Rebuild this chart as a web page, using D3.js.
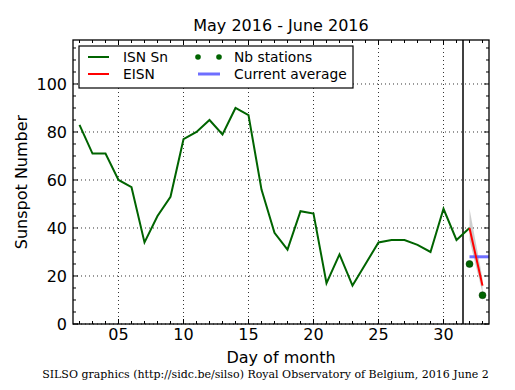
<!DOCTYPE html>
<html><head><meta charset="utf-8">
<script src="https://cdn.jsdelivr.net/npm/d3@7"></script>
<style>body{margin:0;background:#fff}svg{display:block}</style>
</head><body>
<svg id="c" width="515" height="390"></svg>
<script>
const days = [2,3,4,5,6,7,8,9,10,11,12,13,14,15,16,17,18,19,20,21,22,23,24,25,26,27,28,29,30,31,32];
const isn = [83,71,71,60,57,34,45,53,77,80,85,79,90,87,56,38,31,47,46,17,29,16,25,34,35,35,33,30,48,35,40];
const eisnDays = [32,33];
const eisn = [40,16];
const eisnUpper = [48,19];
const eisnLower = [35,13];
const stationDays = [32,33];
const stations = [25,12];
const avgDays = [32,33.5];
const currentAvg = [28,28];
const xTicks = [5,10,15,20,25,30];
const xTickLabels = ["05","10","15","20","25","30"];
const yTicks = [0,20,40,60,80,100];
const monthBoundary = 31.5;

const svg = d3.select("#c");
const L=73,R=489,T=40,B=324;
const x = d3.scaleLinear().domain([1.5,33.5]).range([L,R]);
const y = d3.scaleLinear().domain([0,118.33]).range([B,T]);
const font = "DejaVu Sans, sans-serif";

svg.append("rect").attr("width",515).attr("height",390).attr("fill","#fff");

// grid
const g = svg.append("g");
xTicks.forEach(t=>g.append("line").attr("x1",x(t)).attr("x2",x(t)).attr("y1",T).attr("y2",B)
  .attr("stroke","#000").attr("stroke-width",0.8).attr("stroke-dasharray","1,3"));
yTicks.forEach(t=>g.append("line").attr("x1",L).attr("x2",R).attr("y1",y(t)).attr("y2",y(t))
  .attr("stroke","#000").attr("stroke-width",0.8).attr("stroke-dasharray","1,3"));

// ticks inward
const tk = svg.append("g").attr("stroke","#000").attr("stroke-width",1);
d3.range(2,34).forEach(d=>{
  const len = xTicks.includes(d)?5:3;
  tk.append("line").attr("x1",x(d)).attr("x2",x(d)).attr("y1",B).attr("y2",B-len);
  tk.append("line").attr("x1",x(d)).attr("x2",x(d)).attr("y1",T).attr("y2",T+len);
});
d3.range(0,119,5).forEach(v=>{
  const len = v%20===0?5:3;
  tk.append("line").attr("x1",L).attr("x2",L+len).attr("y1",y(v)).attr("y2",y(v));
  tk.append("line").attr("x1",R).attr("x2",R-len).attr("y1",y(v)).attr("y2",y(v));
});

// vertical boundary
svg.append("line").attr("x1",x(monthBoundary)).attr("x2",x(monthBoundary)).attr("y1",T).attr("y2",B)
  .attr("stroke","#000").attr("stroke-width",1.5);

// uncertainty band
const band = eisnDays.map((d,i)=>({d,u:eisnUpper[i],l:eisnLower[i]}));
svg.append("path").datum(band)
  .attr("d",d3.area().x(p=>x(p.d)).y0(p=>y(p.l)).y1(p=>y(p.u)))
  .attr("fill","#b8b8b8").attr("opacity",0.7);

// ISN line
svg.append("path").datum(days.map((d,i)=>[d,isn[i]]))
  .attr("d",d3.line().x(p=>x(p[0])).y(p=>y(p[1])))
  .attr("fill","none").attr("stroke","#006400").attr("stroke-width",2);

// current average
svg.append("path").datum(avgDays.map((d,i)=>[d,currentAvg[i]]))
  .attr("d",d3.line().x(p=>x(p[0])).y(p=>y(p[1])))
  .attr("stroke","#5555ff").attr("stroke-opacity",0.85).attr("stroke-width",3).attr("fill","none");

// EISN
svg.append("path").datum(eisnDays.map((d,i)=>[d,eisn[i]]))
  .attr("d",d3.line().x(p=>x(p[0])).y(p=>y(p[1])))
  .attr("fill","none").attr("stroke","#ff0000").attr("stroke-width",2);

// stations
svg.selectAll(".st").data(stationDays.map((d,i)=>[d,stations[i]])).enter().append("circle")
  .attr("cx",p=>x(p[0])).attr("cy",p=>y(p[1])).attr("r",3.5).attr("fill","#006400").attr("stroke","#003300").attr("stroke-width",0.5);

// frame
svg.append("rect").attr("x",L).attr("y",T).attr("width",R-L).attr("height",B-T)
  .attr("fill","none").attr("stroke","#000").attr("stroke-width",1.3);

// tick labels
xTicks.forEach((t,i)=>svg.append("text").attr("x",x(t)).attr("y",340).attr("text-anchor","middle")
  .attr("font-family",font).attr("font-size",16).text(xTickLabels[i]));
yTicks.forEach(t=>svg.append("text").attr("x",L-6).attr("y",y(t)+6).attr("text-anchor","end")
  .attr("font-family",font).attr("font-size",16).text(t));

// titles
svg.append("text").attr("x",281).attr("y",31).attr("text-anchor","middle").attr("font-family",font)
  .attr("font-size",16).text("May 2016 - June 2016");
svg.append("text").attr("x",281).attr("y",363).attr("text-anchor","middle").attr("font-family",font)
  .attr("font-size",16).text("Day of month");
svg.append("text").attr("transform","translate(27,182) rotate(-90)").attr("text-anchor","middle")
  .attr("font-family",font).attr("font-size",16).text("Sunspot Number");
svg.append("text").attr("x",265.5).attr("y",378).attr("text-anchor","middle").attr("font-family","DejaVu Serif, serif")
  .attr("font-size",11).text("SILSO graphics (http://sidc.be/silso) Royal Observatory of Belgium, 2016 June 2");

// legend
const lg = svg.append("g");
lg.append("rect").attr("x",79).attr("y",46).attr("width",274).attr("height",42)
  .attr("fill","#fff").attr("stroke","#000").attr("stroke-width",1.2);
lg.append("line").attr("x1",88).attr("x2",109).attr("y1",57).attr("y2",57).attr("stroke","#006400").attr("stroke-width",2);
lg.append("line").attr("x1",88).attr("x2",109).attr("y1",74).attr("y2",74).attr("stroke","#ff0000").attr("stroke-width",2);
lg.append("circle").attr("cx",198).attr("cy",57).attr("r",2.8).attr("fill","#006400");
lg.append("circle").attr("cx",219).attr("cy",57).attr("r",2.8).attr("fill","#006400");
lg.append("line").attr("x1",198).attr("x2",220).attr("y1",74).attr("y2",74).attr("stroke","#5555ff").attr("stroke-opacity",0.85).attr("stroke-width",3);
[["ISN Sn",123,62],["EISN",123,79],["Nb stations",234,62],["Current average",234,79]].forEach(e=>
  lg.append("text").attr("x",e[1]).attr("y",e[2]).attr("font-family",font).attr("font-size",13.8).text(e[0]));
</script>
</body></html>
